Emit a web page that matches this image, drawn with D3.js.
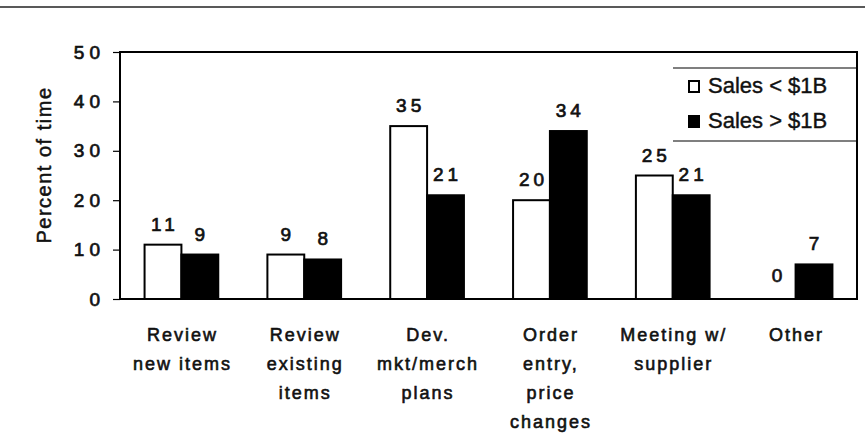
<!DOCTYPE html>
<html>
<head>
<meta charset="utf-8">
<script src="https://cdn.jsdelivr.net/npm/d3@7"></script>
<style>
  body { margin: 0; background: #fff; }
  svg { display: block; }
  text { font-family: "Liberation Sans", Arial, Helvetica, sans-serif; fill: #111; }
</style>
</head>
<body>
<div class="chart"></div>
<script>
// data
var categories = ["Review new items", "Review existing items", "Dev. mkt/merch plans",
  "Order entry, price changes", "Meeting w/ supplier", "Other"];
var catLines = [["Review", "new items"], ["Review", "existing", "items"], ["Dev.", "mkt/merch", "plans"],
  ["Order", "entry,", "price", "changes"], ["Meeting w/", "supplier"], ["Other"]];
var series = ["Sales < $1B", "Sales > $1B"];
var small = [11, 9, 35, 20, 25, 0];
var large = [9, 8, 21, 34, 21, 7];
var yTicks = [0, 10, 20, 30, 40, 50];

var width = 865, height = 436;
var margin = { top: 52, right: 8, bottom: 137, left: 120 };

var svg = d3.select(".chart").append("svg")
  .attr("width", width)
  .attr("height", height);

// scanned page rule at the top
svg.append("line")
  .attr("x1", 0).attr("x2", width)
  .attr("y1", 7).attr("y2", 7)
  .attr("stroke", "#222").attr("stroke-width", 1.5);

var x0 = d3.scaleBand().domain(categories)
  .range([margin.left, width - margin.right]);
var x1 = d3.scaleBand().domain(series)
  .range([x0.bandwidth() * 0.2, x0.bandwidth() * 0.8]);
var y = d3.scaleLinear().domain([0, 50])
  .range([height - margin.bottom, margin.top]);

var rows = categories.map(function (c, i) {
  return { cat: c, vals: [{ s: series[0], v: small[i] }, { s: series[1], v: large[i] }] };
});

//bars
var g = svg.selectAll("g.grp").data(rows).enter().append("g")
  .attr("class", "grp")
  .attr("transform", function (d) { return "translate(" + x0(d.cat) + ",0)"; });

g.selectAll("rect").data(function (d) { return d.vals.filter(function (e) { return e.v > 0; }); })
  .enter()
  .append("rect")
  .attr("x", function (d) { return x1(d.s); })
  .attr("y", function (d) { return y(d.v); })
  .attr("width", x1.bandwidth())
  .attr("height", function (d) { return y(0) - y(d.v); })
  .attr("fill", function (d) { return d.s == series[0] ? "#fff" : "#000"; })
  .attr("stroke", "#000")
  .attr("stroke-width", 2);

g.selectAll("text.val").data(function (d) { return d.vals; }).enter()
  .append("text")
  .attr("class", "val")
  .attr("x", function (d) { return x1(d.s) + x1.bandwidth() / 2 + 2; })
  .attr("y", function (d) { return y(d.v) - (d.v == 0 ? 17 : 14); })
  .attr("text-anchor", "middle")
  .attr("font-size", 19)
  .attr("letter-spacing", "4px")
  .attr("stroke", "#111").attr("stroke-width", 0.7)
  .text(function (d) { return d.v; });

//frame
svg.append("rect")
  .attr("x", margin.left).attr("y", margin.top)
  .attr("width", width - margin.left - margin.right)
  .attr("height", height - margin.top - margin.bottom)
  .attr("fill", "none").attr("stroke", "#000").attr("stroke-width", 2);

//y axis
var yAxis = svg.append("g")
  .attr("transform", "translate(" + margin.left + ",0)")
  .call(d3.axisLeft(y).tickValues(yTicks).tickSize(7).tickPadding(13));
yAxis.select(".domain").remove();
yAxis.selectAll("line").attr("stroke", "#000").attr("stroke-width", 1.2);
yAxis.selectAll("text")
  .attr("font-size", 19)
  .attr("letter-spacing", "5px")
  .attr("dx", "5px")
  .attr("stroke", "#111").attr("stroke-width", 0.7)
  .style("font-family", '"Liberation Sans", Arial, sans-serif')
  .style("fill", "#111");

svg.append("text")
  .attr("transform", "translate(51,165) rotate(-90)")
  .attr("text-anchor", "middle")
  .attr("font-size", 20)
  .attr("letter-spacing", "1.5px")
  .attr("stroke", "#111").attr("stroke-width", 0.5)
  .text("Percent of time");

//category labels
var lab = svg.selectAll("text.cat").data(rows).enter().append("text")
  .attr("class", "cat")
  .attr("text-anchor", "middle")
  .attr("font-size", 18)
  .attr("letter-spacing", "2px")
  .attr("stroke", "#111").attr("stroke-width", 0.6);
lab.each(function (d, i) {
  var t = d3.select(this);
  catLines[i].forEach(function (s, k) {
    t.append("tspan")
      .attr("x", x0(d.cat) + x0.bandwidth() / 2 + 1)
      .attr("y", 341 + k * 29)
      .text(s);
  });
});

//legend
var lx = 673, lr = width - margin.right;
[68, 141].forEach(function (ly) {
  svg.append("line").attr("x1", lx).attr("x2", lr)
    .attr("y1", ly).attr("y2", ly)
    .attr("stroke", "#000").attr("stroke-width", 1.2);
});
series.forEach(function (s, i) {
  var by = 93 + i * 35;
  svg.append("rect")
    .attr("x", 689).attr("y", by - 12)
    .attr("width", 10).attr("height", 11)
    .attr("fill", i == 0 ? "#fff" : "#000")
    .attr("stroke", "#000").attr("stroke-width", 2);
  svg.append("text")
    .attr("x", 708).attr("y", by)
    .attr("font-size", 22)
    .attr("stroke", "#111").attr("stroke-width", 0.4)
    .text(s);
});
</script>
</body>
</html>
